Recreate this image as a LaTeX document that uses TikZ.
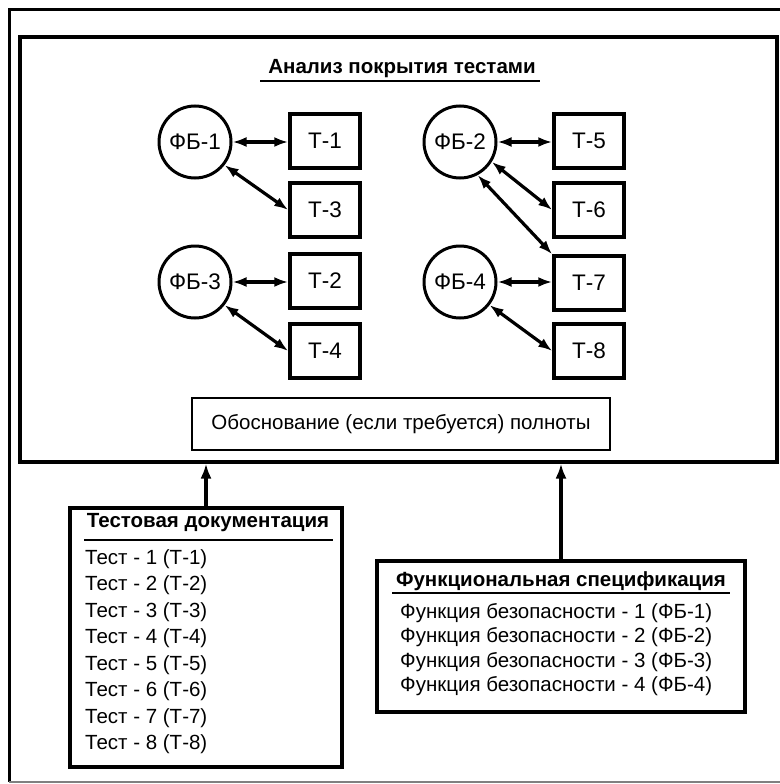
\documentclass[tikz,border=0pt]{standalone}
\usepackage{fontspec}
\setmainfont{Liberation Sans}
\usetikzlibrary{arrows.meta}
\begin{document}
\begin{tikzpicture}[x=1pt,y=-1pt,
  txt/.style={font=\fontsize{20.5}{24}\selectfont, inner sep=0pt},
  btxt/.style={font=\fontsize{20.5}{24}\selectfont\bfseries, inner sep=0pt},
  fb/.style={circle, draw, line width=3pt, minimum size=72pt, inner sep=0pt, font=\fontsize{22.5}{26}\selectfont},
  tb/.style={rectangle, draw, line width=3.5pt, minimum width=70pt, minimum height=54pt, inner sep=0pt, font=\fontsize{22.5}{26}\selectfont},
  link/.style={line width=3.2pt, {Latex[length=14pt,width=10pt]}-{Latex[length=14pt,width=10pt]}},
  up/.style={line width=3.5pt, -{Latex[length=15pt,width=11pt]}},
  frame/.style={rectangle, draw, line width=4pt, inner sep=0pt}
]
\useasboundingbox (0,0) rectangle (779,784);
\fill[white] (0,0) rectangle (779,784);
% outer frame
\draw[line width=3pt] (800,10) -- (9,10) -- (9,782);
\draw[gray, line width=1.5pt] (9,782) -- (800,782);
% inner frame
\node[frame, minimum width=757pt, minimum height=424pt] (main) at (398.5,249.5) {};
% title
\node[btxt] (title) at (402,69) {Анализ покрытия тестами};
\draw[line width=2.5pt] (260,81) -- (540,81);
% circles
\node[fb] (f1) at (195,142) {ФБ-1};
\node[fb] (f3) at (195,282) {ФБ-3};
\node[fb] (f2) at (460,142) {ФБ-2};
\node[fb] (f4) at (460,282) {ФБ-4};
% boxes
\node[tb] (t1) at (325,141) {Т-1};
\node[tb] (t3) at (325,210) {Т-3};
\node[tb] (t2) at (325,281) {Т-2};
\node[tb] (t4) at (325,351) {Т-4};
\node[tb] (t5) at (589,141) {Т-5};
\node[tb] (t6) at (589,210) {Т-6};
\node[tb] (t7) at (589,283) {Т-7};
\node[tb] (t8) at (589,351) {Т-8};
% links
\draw[link] (f1.east) -- (t1.west |- f1.east);
\draw[link] (f1.-38) -- (t3.west);
\draw[link] (f3.east) -- (t2.west |- f3.east);
\draw[link] (f3.-38) -- (t4.west);
\draw[link] (f2.east) -- (t5.west |- f2.east);
\draw[link] (f2.-32) -- (t6.west);
\draw[link] (f2.-62) -- (t7.north west);
\draw[link] (f4.east) -- (t7.west |- f4.east);
\draw[link] (f4.-38) -- (t8.west);
% justification box
\node[rectangle, draw, line width=2pt, minimum width=418pt, minimum height=52pt, txt] (ob) at (401,424) {Обоснование (если требуется) полноты};
% test documentation
\node[frame, minimum width=272pt, minimum height=259pt] (td) at (206,637.5) {};
\node[btxt] (tdt) at (208,523) {Тестовая документация};
\draw[line width=2pt] (84,540) -- (333,540);
\node[txt, anchor=west] (i1) at (85,559) {Тест - 1 (Т-1)};
\node[txt, anchor=west] (i2) at (85,585.5) {Тест - 2 (Т-2)};
\node[txt, anchor=west] (i3) at (85,612) {Тест - 3 (Т-3)};
\node[txt, anchor=west] (i4) at (85,638.5) {Тест - 4 (Т-4)};
\node[txt, anchor=west] (i5) at (85,665) {Тест - 5 (Т-5)};
\node[txt, anchor=west] (i6) at (85,691.5) {Тест - 6 (Т-6)};
\node[txt, anchor=west] (i7) at (85,718) {Тест - 7 (Т-7)};
\node[txt, anchor=west] (i8) at (85,744.5) {Тест - 8 (Т-8)};
% functional spec
\node[frame, minimum width=368pt, minimum height=151pt] (fs) at (561,636.5) {};
\node[btxt] (fst) at (561,581) {Функциональная спецификация};
\draw[line width=2pt] (392,593) -- (730,593);
\node[txt, anchor=west] (s1) at (400,613) {Функция безопасности - 1 (ФБ-1)};
\node[txt, anchor=west] (s2) at (400,637.5) {Функция безопасности - 2 (ФБ-2)};
\node[txt, anchor=west] (s3) at (400,662) {Функция безопасности - 3 (ФБ-3)};
\node[txt, anchor=west] (s4) at (400,686.5) {Функция безопасности - 4 (ФБ-4)};
% arrows up
\draw[up] (td.north) -- (td.north |- main.south);
\draw[up] (fs.north) -- (fs.north |- main.south);
\end{tikzpicture}
\end{document}
